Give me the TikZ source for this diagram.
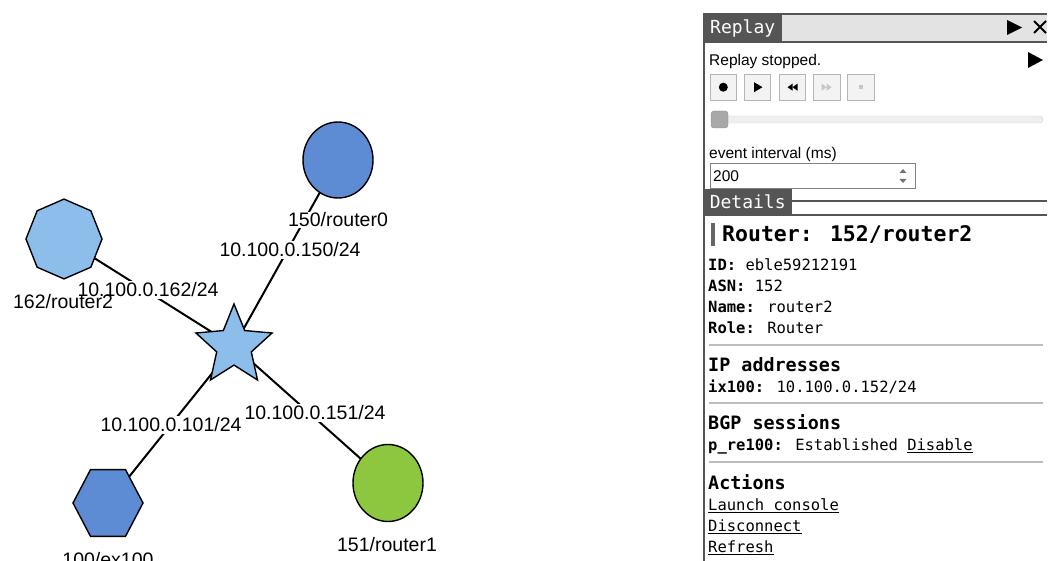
\documentclass[tikz,border=0pt]{standalone}
\usepackage{fontspec}
\setmainfont{Liberation Sans}
\newfontfamily\monofont{DejaVu Sans Mono}
\usetikzlibrary{shapes.geometric,calc}
\pgfdeclarelayer{edges}
\pgfsetlayers{edges,main}

\definecolor{nodeblue}{HTML}{5D8BD4}
\definecolor{lightblue}{HTML}{8CBDEB}
\definecolor{leafgreen}{HTML}{8DC63F}
\definecolor{tabgray}{HTML}{555555}
\definecolor{bargray}{HTML}{E3E3E3}
\definecolor{rulegray}{HTML}{BDBDBD}
\definecolor{btnfill}{HTML}{F3F3F3}
\definecolor{btnedge}{HTML}{B5B5B5}
\definecolor{iconoff}{HTML}{C6C6C6}
\definecolor{tracklight}{HTML}{EFEFEF}
\definecolor{trackedge}{HTML}{D2D2D2}
\definecolor{knob}{HTML}{A8A8A8}

\begin{document}
\begin{tikzpicture}[x=1pt,y=-1pt,
  netnode/.style={draw=black,line width=1.4pt,inner sep=0pt},
  link/.style={line width=2pt},
  lbl/.style={font=\fontsize{19.5}{22}\selectfont,inner sep=0.5pt},
  addr/.style={lbl,fill=white,inner sep=1.5pt},
  tab/.style={fill=tabgray,text=white,anchor=north west,inner sep=0pt,
    font=\monofont\fontsize{18}{20}\selectfont},
  btn/.style={draw=btnedge,fill=btnfill,line width=0.8pt,inner sep=0pt,
    minimum width=26.7pt,minimum height=25.7pt},
  sans/.style={anchor=base west,inner sep=0pt,font=\fontsize{15.5}{18}\selectfont},
  body/.style={anchor=base west,inner sep=0pt,font=\monofont\fontsize{15.5}{18}\selectfont},
  head/.style={anchor=base west,inner sep=0pt,font=\monofont\bfseries\fontsize{18.4}{22}\selectfont},
  sep/.style={rulegray,line width=1.5pt}
]
\useasboundingbox (0,0) rectangle (1054,561);

% ---------------- network graph ----------------
\node[netnode,ellipse,fill=nodeblue,minimum width=70pt,minimum height=76pt] (r0) at (338,160) {};
\node[netnode,regular polygon,regular polygon sides=8,shape border rotate=22.5,
      fill=lightblue,minimum size=76pt,yscale=1.05] (r2) at (64,239) {};
\node[netnode,star,star points=5,star point ratio=2.2,fill=lightblue,
      minimum size=80pt,yscale=1.05] (ix) at (234,346) {};
\node[netnode,regular polygon,regular polygon sides=6,fill=nodeblue,
      minimum size=70pt,yscale=1.1] (ex) at (108,503) {};
\node[netnode,ellipse,fill=leafgreen,minimum width=70pt,minimum height=77pt] (r1) at (388,483) {};

\begin{pgfonlayer}{edges}
  \draw[link] (r0.center) -- (ix.center);
  \draw[link] (r2.center) -- (ix.center);
  \draw[link] (ex.center) -- (ix.center);
  \draw[link] (r1.center) -- (ix.center);
\end{pgfonlayer}

% interface addresses on the links
\node[addr] (a0) at (290,250) {10.100.0.150/24};
\node[addr] (a2) at (148,290) {10.100.0.162/24};
\node[addr] (ae) at (171,425) {10.100.0.101/24};
\node[addr] (a1) at (315,413) {10.100.0.151/24};

% node names
\node[lbl,fill=white] (l0) at (338,220) {150/router0};
\node[lbl] (l2) at (63,302) {162/router2};
\node[lbl] (le) at (108,560) {100/ex100};
\node[lbl] (l1) at (387,545) {151/router1};

% ---------------- side panel ----------------
\draw[tabgray,line width=2pt] (704,13) -- (704,561);

% Replay header
\fill[bargray] (782,14) rectangle (1047,42);
\draw[tabgray,line width=2pt] (782,14) -- (1047,14);
\draw[tabgray,line width=2pt] (782,42) -- (1047,42);
\node[tab,minimum width=79pt,minimum height=30pt] (replaytab) at (703,13) {Replay};
\fill (1007,20) -- (1007,35) -- (1022,27.5) -- cycle;
\draw[line width=2pt] (1034,21) -- (1046,33) (1034,33) -- (1046,21);

\node[sans] (status) at (709,65.5) {Replay stopped.};
\fill (1028,52) -- (1028,68) -- (1043,60) -- cycle;

% transport buttons
\node[btn] (b1) at (723.3,87.2) {};
\node[btn] (b2) at (757.5,87.2) {};
\node[btn] (b3) at (792.5,87.2) {};
\node[btn] (b4) at (826.7,87.2) {};
\node[btn] (b5) at (861,87.2) {};
\fill (b1) circle[radius=4.5pt];
\fill ($(b2)+(-3.5,-5)$) -- ($(b2)+(-3.5,5)$) -- ($(b2)+(5,0)$) -- cycle;
\fill ($(b3)+(0,-3.5)$) -- ($(b3)+(-5,0)$) -- ($(b3)+(0,3.5)$) -- cycle;
\fill ($(b3)+(5,-3.5)$) -- ($(b3)+(0,0)$) -- ($(b3)+(5,3.5)$) -- cycle;
\fill[iconoff] ($(b4)+(0,-3.5)$) -- ($(b4)+(5,0)$) -- ($(b4)+(0,3.5)$) -- cycle;
\fill[iconoff] ($(b4)+(-5,-3.5)$) -- ($(b4)+(0,0)$) -- ($(b4)+(-5,3.5)$) -- cycle;
\fill[iconoff] ($(b5)+(-2.2,-2.2)$) rectangle ($(b5)+(2.2,2.2)$);

% position slider
\draw[trackedge,fill=tracklight,rounded corners=3.5pt] (712,116) rectangle (1043,123);
\draw[knob!85!black,fill=knob,rounded corners=3pt] (711,111) rectangle (728,128);

% event interval field
\node[sans] (ivlabel) at (709,158.5) {event interval (ms)};
\node[draw=black!50,line width=1pt,fill=white,anchor=north west,inner sep=0pt,
      minimum width=205pt,minimum height=25pt] (ivbox) at (710,163) {};
\node[sans] (ivvalue) at (713,181.5) {200};
\fill[black!55] (899.5,173) -- (906.5,173) -- (903,169) -- cycle;
\fill[black!55] (899.5,179) -- (906.5,179) -- (903,183) -- cycle;

% Details header
\draw[tabgray,line width=2pt] (792,201) -- (1047,201);
\draw[tabgray,line width=1.6pt] (703,215) -- (1047,215);
\node[tab,minimum width=89pt,minimum height=25pt] (detailstab) at (703,189) {Details};

% router details
\fill[black!60] (711,223) rectangle (715,246);
\node[anchor=base west,inner sep=0pt,font=\monofont\bfseries\fontsize{21.5}{24}\selectfont]
  (title) at (722,242) {Router: 152/router2};
\node[body] (idline) at (708,270.6) {\textbf{ID:} eble59212191};
\node[body] (asnline) at (708,291.6) {\textbf{ASN:} 152};
\node[body] (nameline) at (708,312.6) {\textbf{Name:} router2};
\node[body] (roleline) at (708,333.6) {\textbf{Role:} Router};
\draw[sep] (709,345) -- (1043,345);

\node[head] (iphead) at (708,371.7) {IP addresses};
\node[body] (ipline) at (708,392.6) {\textbf{ix100:} 10.100.0.152/24};
\draw[sep] (709,403) -- (1043,403);

\node[head] (bgphead) at (708,429.7) {BGP sessions};
\node[body] (bgpline) at (708,450.6) {\textbf{p\_re100:} Established \underline{Disable}};
\draw[sep] (709,462) -- (1043,462);

\node[head] (acthead) at (708,489.7) {Actions};
\node[body] (act1) at (708,510.6) {\underline{Launch console}};
\node[body] (act2) at (708,531.6) {\underline{Disconnect}};
\node[body] (act3) at (708,552.6) {\underline{Refresh}};
\end{tikzpicture}
\end{document}
